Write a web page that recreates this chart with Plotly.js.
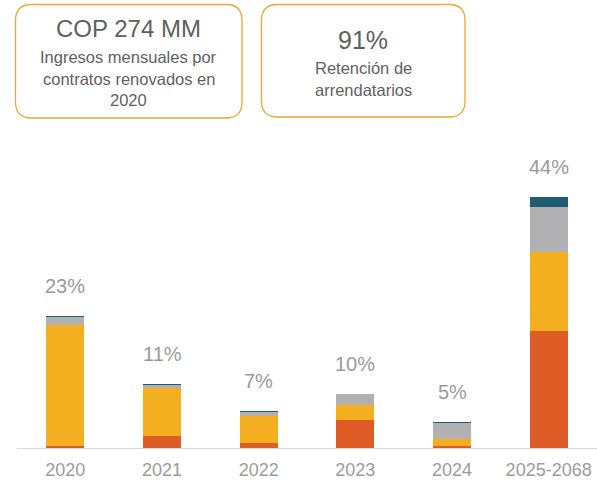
<!DOCTYPE html>
<html>
<head>
<meta charset="utf-8">
<script src="https://cdn.plot.ly/plotly-3.0.1.min.js"></script>
<style>html,body{margin:0;padding:0;background:#fff;}#chart{width:597px;height:481px;}</style>
</head>
<body>
<div id="chart"></div>
<script>
// ---- data ----
const categories = ["2020", "2021", "2022", "2023", "2024", "2025-2068"];
const seriesRed    = [0.35, 2.15, 0.93, 4.95, 0.35, 20.5];
const seriesYellow = [21.1, 8.4, 4.7, 2.62, 1.22, 13.7];
const seriesGrey   = [1.4, 0.47, 0.65, 1.82, 2.85, 7.95];
const seriesTeal   = [0.2, 0.17, 0.17, 0, 0.17, 1.8];
const totalLabels  = ["23%", "11%", "7%", "10%", "5%", "44%"];
const box1Lines = ["COP 274 MM", "Ingresos mensuales por", "contratos renovados en", "2020"];
const box2Lines = ["91%", "Retención de", "arrendatarios"];

// ---- layout geometry ----
const W = 597, H = 481, ML = 17, MR = 0, MT = 130, MB = 33;
const PW = W - ML - MR, PH = H - MT - MB;
const px = v => (v - ML) / PW;
const py = v => (H - MB - v) / PH;

function roundRect(x0, y0, x1, y1, r) {
  const X0 = px(x0), X1 = px(x1), Y0 = py(y0), Y1 = py(y1);
  const rx = r / PW, ry = r / PH;
  return `M ${X0 + rx} ${Y0} L ${X1 - rx} ${Y0} Q ${X1} ${Y0} ${X1} ${Y0 - ry} ` +
         `L ${X1} ${Y1 + ry} Q ${X1} ${Y1} ${X1 - rx} ${Y1} ` +
         `L ${X0 + rx} ${Y1} Q ${X0} ${Y1} ${X0} ${Y1 + ry} ` +
         `L ${X0} ${Y0 - ry} Q ${X0} ${Y0} ${X0 + rx} ${Y0} Z`;
}

const colors = ["#E05C26", "#F3AF1F", "#B1B1B3", "#1F5E72"];
const allSeries = [seriesRed, seriesYellow, seriesGrey, seriesTeal];
const traces = allSeries.map((s, i) => ({
  type: "bar", x: categories, y: s,
  marker: { color: colors[i], line: { width: 0 } },
  hoverinfo: "none", showlegend: false
}));

const totals = categories.map((_, i) => allSeries.reduce((a, s) => a + s[i], 0));
const font = "'Liberation Sans', Arial, sans-serif";
const annotations = categories.map((c, i) => ({
  x: i, y: totals[i], xref: "x", yref: "y", text: totalLabels[i],
  showarrow: false, yanchor: "middle", yshift: 30,
  font: { family: font, size: 20, color: "#9A9A9A" }
}));

const textColor = "#5F5F5F";
const b1y = [29, 57, 79, 100], b1s = [24, 16.5, 16.5, 16.5];
box1Lines.forEach((t, i) => annotations.push({
  x: px(128.5), y: py(b1y[i]), xref: "paper", yref: "paper", text: t, showarrow: false,
  xanchor: "center", yanchor: "middle", font: { family: font, size: b1s[i], color: textColor }
}));
const b2y = [40, 68, 90], b2s = [25, 16.5, 16.5];
box2Lines.forEach((t, i) => annotations.push({
  x: px(363), y: py(b2y[i]), xref: "paper", yref: "paper", text: t, showarrow: false,
  xanchor: "center", yanchor: "middle", font: { family: font, size: b2s[i], color: textColor }
}));

const shapes = [
  { type: "path", xref: "paper", yref: "paper", path: roundRect(15.5, 4.5, 242, 118, 16),
    line: { color: "#EBA73A", width: 1.3 }, fillcolor: "rgba(0,0,0,0)" },
  { type: "path", xref: "paper", yref: "paper", path: roundRect(261.5, 4.5, 465, 117, 16),
    line: { color: "#EBA73A", width: 1.3 }, fillcolor: "rgba(0,0,0,0)" }
];

const layout = {
  width: W, height: H,
  margin: { l: ML, r: MR, t: MT, b: MB, pad: 0 },
  paper_bgcolor: "#fff", plot_bgcolor: "#fff",
  barmode: "stack", bargap: 0.607,
  xaxis: {
    type: "category", range: [-0.5, 5.5], autorange: false,
    showline: true, linecolor: "#D9D9D9", linewidth: 1,
    ticks: "", showgrid: false, zeroline: false, ticklabelstandoff: 5,
    tickfont: { family: font, size: 18, color: "#9C9C9C" }, fixedrange: true
  },
  yaxis: { range: [0, 55.6], autorange: false, visible: false, showgrid: false, zeroline: false, fixedrange: true },
  annotations: annotations, shapes: shapes
};

Plotly.newPlot("chart", traces, layout, { displayModeBar: false, staticPlot: true });
</script>
</body>
</html>
